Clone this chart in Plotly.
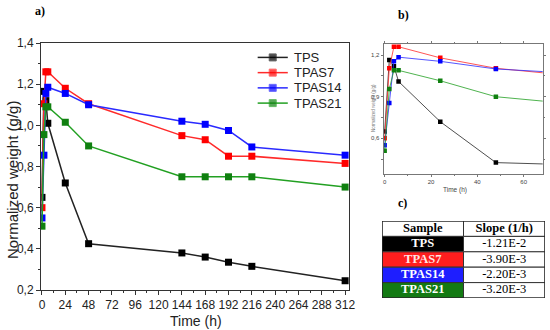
import plotly.graph_objects as go

time_h = [0, 2, 4, 6, 24, 48, 144, 168, 192, 216, 312]
series_names = ["TPS", "TPAS7", "TPAS14", "TPAS21"]
tps = [0.65, 1.165, 1.12, 1.01, 0.72, 0.425, 0.38, 0.36, 0.335, 0.315, 0.245]
tpas7 = [0.60, 1.105, 1.26, 1.26, 1.18, 1.105, 0.95, 0.93, 0.85, 0.85, 0.815]
tpas14 = [0.55, 0.855, 1.155, 1.185, 1.155, 1.10, 1.02, 1.005, 0.975, 0.895, 0.855]
tpas21 = [0.51, 0.955, 1.09, 1.09, 1.015, 0.90, 0.75, 0.75, 0.75, 0.75, 0.70]
series_values = [tps, tpas7, tpas14, tpas21]
line_colors = ["#222222", "#ff2a2a", "#2a2aff", "#22a022"]
marker_colors = ["#000000", "#ff0000", "#0000ff", "#108010"]

table_header = ["Sample", "Slope (1/h)"]
table_samples = ["TPS", "TPAS7", "TPAS14", "TPAS21"]
table_slopes = ["-1.21E-2", "-3.90E-3", "-2.20E-3", "-3.20E-3"]
table_fill = ["#000000", "#ff1e1e", "#1e1eff", "#137a13"]
table_text = ["#ffffff", "#ffe6e6", "#ffffff", "#ffffff"]

main_x_ticks = [0, 24, 48, 72, 96, 120, 144, 168, 192, 216, 240, 264, 288, 312]
main_y_ticks = [0.2, 0.4, 0.6, 0.8, 1.0, 1.2, 1.4]
inset_x_ticks = [0, 20, 40, 60]
inset_y_ticks = [0.6, 0.9, 1.2]

W, H = 550, 330


def px(p):
    return p / W


def py(p):
    return 1 - p / H


sans = "Arial, Liberation Sans, sans-serif"
serif = "Liberation Serif, Times New Roman, serif"

fig = go.Figure()
# main chart
for name, vals, lc, mc in zip(series_names, series_values, line_colors, marker_colors):
    fig.add_trace(go.Scatter(
        x=time_h, y=vals, name=name, mode="lines+markers", showlegend=False,
        line=dict(color=lc, width=1.5),
        marker=dict(symbol="square", size=7, color=mc),
        xaxis="x", yaxis="y"))

# manual legend (inside main axes, top right)
leg_x0, leg_x1 = 222, 253
leg_y_top, leg_dy = 1.33, 0.074
for i, (name, lc, mc) in enumerate(zip(series_names, line_colors, marker_colors)):
    yy = leg_y_top - i * leg_dy
    fig.add_trace(go.Scatter(
        x=[leg_x0, (leg_x0 + leg_x1) / 2, leg_x1], y=[yy, yy, yy],
        mode="lines+markers", showlegend=False, hoverinfo="skip",
        line=dict(color=lc, width=1.5),
        marker=dict(symbol="square", size=[0, 7, 0], color=mc),
        xaxis="x", yaxis="y"))
    fig.add_annotation(text=name, x=leg_x1 + 4, y=yy, xref="x", yref="y",
                       xanchor="left", yanchor="middle", showarrow=False,
                       font=dict(family=sans, size=13, color="#222222"))

# inset chart
for name, vals, lc, mc in zip(series_names, series_values, line_colors, marker_colors):
    fig.add_trace(go.Scatter(
        x=time_h, y=vals, name=name, mode="lines+markers", showlegend=False,
        line=dict(color=lc, width=0.8),
        marker=dict(symbol="square", size=4.5, color=mc),
        xaxis="x2", yaxis="y2"))

# table via its own hidden axes
ncol, nrow = 2, len(table_samples) + 1
shapes = []
for r in range(nrow):
    y1 = nrow - r
    y0 = y1 - 1
    for c in range(ncol):
        if r == 0:
            fill = "white"
        elif c == 0:
            fill = table_fill[r - 1]
        else:
            fill = "white"
        shapes.append(dict(type="rect", xref="x3", yref="y3", x0=c, x1=c + 1, y0=y0, y1=y1,
                           fillcolor=fill, line=dict(color="#333333", width=1), layer="below"))
shapes.append(dict(type="rect", xref="x3", yref="y3", x0=0, x1=ncol, y0=0, y1=nrow,
                   fillcolor="rgba(0,0,0,0)", line=dict(color="#222222", width=1.2)))

hdr_y = [nrow - 0.5] * 2
fig.add_trace(go.Scatter(x=[0.5, 1.5], y=hdr_y, mode="text",
                         text=["<b>%s</b>" % h for h in table_header],
                         textfont=dict(family=serif, size=12.5, color="black"),
                         showlegend=False, hoverinfo="skip", xaxis="x3", yaxis="y3"))
row_y = [nrow - 1.5 - i for i in range(len(table_samples))]
fig.add_trace(go.Scatter(x=[0.5] * len(table_samples), y=row_y, mode="text",
                         text=["<b>%s</b>" % s for s in table_samples],
                         textfont=dict(family=serif, size=12.5, color=table_text),
                         showlegend=False, hoverinfo="skip", xaxis="x3", yaxis="y3"))
fig.add_trace(go.Scatter(x=[1.5] * len(table_slopes), y=row_y, mode="text",
                         text=table_slopes,
                         textfont=dict(family=serif, size=12.5, color="black"),
                         showlegend=False, hoverinfo="skip", xaxis="x3", yaxis="y3"))

axis_font = dict(family=sans, size=12, color="#222222")
fig.update_layout(
    width=W, height=H,
    margin=dict(l=0, r=0, t=0, b=0),
    paper_bgcolor="white", plot_bgcolor="white",
    separators=",.",
    showlegend=False,
    shapes=shapes,
    xaxis=dict(domain=[px(41), px(349)], range=[-1, 316], tickvals=main_x_ticks,
               ticks="outside", ticklen=4, tickcolor="#333", showline=True, linecolor="#333",
               linewidth=1, mirror=True, showgrid=False, zeroline=False, tickfont=axis_font,
               minor=dict(dtick=12, tick0=0, ticks="outside", ticklen=2, tickcolor="#333"),
               automargin=False, anchor="y"),
    yaxis=dict(domain=[py(290), py(43)], range=[0.2, 1.4], tickvals=main_y_ticks,
               tickformat=".1f", ticks="outside", ticklen=4, tickcolor="#333", showline=True,
               linecolor="#333", linewidth=1, mirror=True, showgrid=False, zeroline=False,
               tickfont=axis_font,
               minor=dict(dtick=0.1, tick0=0.2, ticks="outside", ticklen=2, tickcolor="#333"),
               automargin=False, anchor="x"),
    xaxis2=dict(domain=[px(383.5), px(542.7)], range=[-0.5, 68.2], tickvals=inset_x_ticks,
                ticks="outside", ticklen=2, tickcolor="#777", showline=True, linecolor="#777",
                linewidth=0.8, mirror="ticks", showgrid=False, zeroline=False,
                tickfont=dict(family=sans, size=6, color="#444"),
                minor=dict(dtick=10, tick0=0, ticks="outside", ticklen=1.5, tickcolor="#777"),
                automargin=False, anchor="y2"),
    yaxis2=dict(domain=[py(174), py(44)], range=[0.343, 1.28], tickvals=inset_y_ticks,
                tickformat=".1f", ticks="outside", ticklen=2, tickcolor="#777", showline=True,
                linecolor="#777", linewidth=0.8, mirror="ticks", showgrid=False, zeroline=False,
                tickfont=dict(family=sans, size=6, color="#444"),
                minor=dict(dtick=0.15, tick0=0.3, ticks="outside", ticklen=1.5, tickcolor="#777"),
                automargin=False, anchor="x2"),
    xaxis3=dict(domain=[px(382), px(545)], range=[0, ncol], visible=False, fixedrange=True,
                automargin=False, anchor="y3"),
    yaxis3=dict(domain=[py(298), py(221)], range=[0, nrow], visible=False, fixedrange=True,
                automargin=False, anchor="x3"),
)

# axis titles and panel labels
fig.add_annotation(text="Time (h)", x=px(195.5), y=py(321), xref="paper", yref="paper",
                   xanchor="center", yanchor="middle", showarrow=False,
                   font=dict(family=sans, size=14, color="#222"))
fig.add_annotation(text="Normalized weight (g/g)", x=px(12), y=py(180), xref="paper", yref="paper",
                   xanchor="center", yanchor="middle", showarrow=False, textangle=-90,
                   font=dict(family=sans, size=15, color="#222"))
fig.add_annotation(text="Time (h)", x=px(455), y=py(190), xref="paper", yref="paper",
                   xanchor="center", yanchor="middle", showarrow=False,
                   font=dict(family=sans, size=6.5, color="#444"))
fig.add_annotation(text="Normalized weight (g/g)", x=px(373), y=py(108), xref="paper", yref="paper",
                   xanchor="center", yanchor="middle", showarrow=False, textangle=-90,
                   font=dict(family=sans, size=4.5, color="#777"))

label_font = dict(family=serif, size=12, color="black")
for txt, lx, ly in [("<b>a)</b>", 40, 11), ("<b>b)</b>", 403, 15), ("<b>c)</b>", 402, 203)]:
    fig.add_annotation(text=txt, x=px(lx), y=py(ly), xref="paper", yref="paper",
                       xanchor="center", yanchor="middle", showarrow=False, font=label_font)

# remove the default 8px page margin so the figure sits at the window origin
fig.write_html("out.html", config={"displayModeBar": False},
               post_script="document.body.style.margin='0px';")
